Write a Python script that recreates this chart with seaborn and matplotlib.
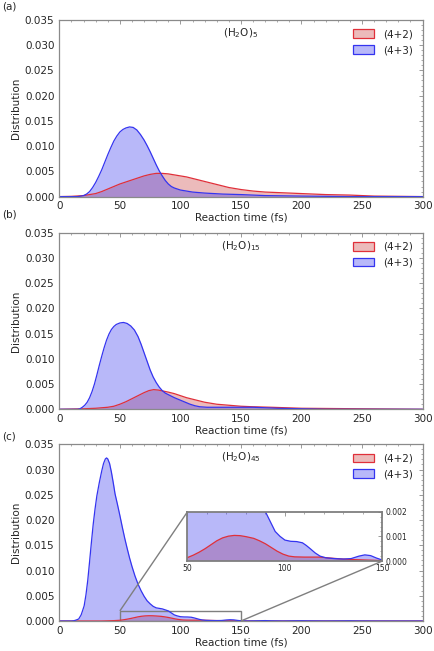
import numpy as np
import matplotlib
matplotlib.use("Agg")
import matplotlib.pyplot as plt
import seaborn as sns
from matplotlib.patches import Patch
from matplotlib.ticker import MultipleLocator, FormatStrFormatter
from mpl_toolkits.axes_grid1.inset_locator import mark_inset

# ==============================
# DATA
# ==============================
panel_labels = ["(a)", "(b)", "(c)"]
cluster_names = [r"(H$_2$O)$_5$", r"(H$_2$O)$_{15}$", r"(H$_2$O)$_{45}$"]
series_names = ["(4+2)", "(4+3)"]

# (H2O)5
a_red_t = [0, 10, 20, 25, 30, 35, 40, 45, 50, 55, 60, 65, 70, 75, 80, 85, 90, 95, 100,
           105, 110, 115, 120, 125, 130, 135, 140, 145, 150, 160, 170, 180, 190, 200,
           220, 240, 260, 280, 300]
a_red_d = [0, 0.00005, 0.0002, 0.0004, 0.0006, 0.0010, 0.0015, 0.0020, 0.0025, 0.0029,
           0.0033, 0.0037, 0.0041, 0.0044, 0.0046, 0.0046, 0.0045, 0.0043, 0.0041,
           0.0039, 0.0036, 0.0033, 0.0030, 0.0027, 0.0024, 0.0021, 0.0018, 0.0016,
           0.0014, 0.0011, 0.0009, 0.0008, 0.0007, 0.0006, 0.0004, 0.0003, 0.0001,
           0.00005, 0]
a_blue_t = [0, 15, 18, 20, 22.5, 25, 27.5, 30, 32.5, 35, 37.5, 40, 42.5, 45, 47.5, 50,
            52.5, 55, 58, 61, 64, 67, 70, 72.5, 75, 77.5, 80, 82.5, 85, 87.5, 90, 92.5,
            95, 100, 105, 110, 120, 135, 150, 170, 200, 240, 300]
a_blue_d = [0, 0, 0.0001, 0.0002, 0.0005, 0.0010, 0.0018, 0.0028, 0.0040, 0.0053,
            0.0068, 0.0083, 0.0097, 0.0110, 0.0120, 0.0128, 0.0133, 0.0136, 0.0138,
            0.0137, 0.0132, 0.0123, 0.0112, 0.0101, 0.0089, 0.0076, 0.0063, 0.0051,
            0.0041, 0.0032, 0.0025, 0.0020, 0.0017, 0.0013, 0.0011, 0.0009, 0.0007,
            0.0005, 0.0004, 0.0002, 0.0001, 0, 0]

# (H2O)15
b_red_t = [0, 20, 30, 40, 45, 50, 55, 60, 65, 70, 74, 78, 82, 86, 90, 95, 100, 105,
           110, 115, 120, 130, 140, 150, 160, 175, 200, 250, 300]
b_red_d = [0, 0.0001, 0.0002, 0.0004, 0.0006, 0.0010, 0.0015, 0.0021, 0.0027, 0.0033,
           0.0037, 0.0039, 0.0038, 0.0036, 0.0034, 0.0031, 0.0027, 0.0023, 0.0020,
           0.0017, 0.0014, 0.0010, 0.0008, 0.0006, 0.0005, 0.0004, 0.0002, 0.0001, 0]
b_blue_t = [0, 15, 17, 19, 21, 23, 25, 27, 29, 31, 33, 35, 37, 39, 41, 43, 45, 47, 50,
            53, 56, 59, 62, 65, 67.5, 70, 72.5, 75, 77.5, 80, 82.5, 85, 87.5, 90, 95,
            100, 104, 108, 112, 116, 122, 140, 160, 170, 180, 200, 220, 300]
b_blue_d = [0, 0, 0.0001, 0.0004, 0.0008, 0.0014, 0.0023, 0.0035, 0.0050, 0.0068,
            0.0087, 0.0105, 0.0122, 0.0137, 0.0149, 0.0158, 0.0164, 0.0168, 0.0171,
            0.0172, 0.0170, 0.0165, 0.0157, 0.0144, 0.0129, 0.0112, 0.0095, 0.0078,
            0.0064, 0.0053, 0.0044, 0.0037, 0.0032, 0.0029, 0.0023, 0.0018, 0.0014,
            0.0010, 0.0007, 0.0005, 0.0004, 0.0004, 0.0004, 0.0003, 0.0002, 0.0001,
            0, 0]

# (H2O)45
c_red_t = [0, 35, 40, 45, 50, 53, 56, 59, 62, 65, 68, 71, 74, 77, 80, 84, 87, 90, 93,
           96, 99, 102, 105, 110, 118, 122, 128, 135, 142, 150, 160, 300]
c_red_d = [0, 0, 0.00003, 0.00007, 0.00014, 0.00024, 0.00036, 0.00050, 0.00066,
           0.00082, 0.00094, 0.00101, 0.00104, 0.00103, 0.00099, 0.00092, 0.00082,
           0.00070, 0.00055, 0.00040, 0.00028, 0.00020, 0.00017, 0.00016, 0.00016,
           0.00013, 0.00009, 0.00006, 0.00004, 0.00002, 0, 0]
c_blue_t = [0, 10, 12, 14, 16, 18, 19, 20.5, 22, 23.5, 25, 26.5, 28, 29.5, 31, 33, 35,
            36.5, 38, 39, 40, 41.5, 43, 44.6, 46, 48, 50, 52, 54, 56, 58, 60, 62.5, 65,
            67.5, 70, 72.5, 75, 77.5, 80, 82.5, 85, 87.5, 90, 92.5, 95, 97.5, 100, 103,
            106, 109, 111, 113, 115.5, 118, 121, 125, 130, 134, 138, 141, 144, 147,
            150, 155, 165, 170, 175, 185, 195, 200, 205, 220, 235, 240, 245, 260, 300]
c_blue_d = [0, 0, 0.00005, 0.0002, 0.0004, 0.0012, 0.0019, 0.0030, 0.0052, 0.0081,
            0.0118, 0.0156, 0.0192, 0.0222, 0.0248, 0.0274, 0.0297, 0.0312, 0.0321,
            0.0323, 0.0321, 0.0312, 0.0295, 0.0273, 0.0252, 0.0231, 0.0209, 0.0186,
            0.0164, 0.0144, 0.0125, 0.0108, 0.0089, 0.0073, 0.0060, 0.0049, 0.0040,
            0.0034, 0.0029, 0.0026, 0.0025, 0.0024, 0.0022, 0.0020, 0.0016, 0.0012,
            0.0010, 0.00085, 0.00080, 0.00079, 0.00074, 0.00063, 0.00050, 0.00033,
            0.00020, 0.00013, 0.00010, 0.00008, 0.00010, 0.00020, 0.00025, 0.00022,
            0.00012, 0.00004, 0.00001, 0.00005, 0.00008, 0.00004, 0.00001, 0.00004,
            0.00005, 0.00003, 0.00001, 0.00003, 0.00004, 0.00002, 0, 0]

red_series = [(a_red_t, a_red_d), (b_red_t, b_red_d), (c_red_t, c_red_d)]
blue_series = [(a_blue_t, a_blue_d), (b_blue_t, b_blue_d), (c_blue_t, c_blue_d)]

# ==============================
# STYLE
# ==============================
sns.set_style("white")
plt.rcParams['font.family'] = ['DejaVu Sans']
plt.rcParams['font.size'] = 7.5
plt.rcParams['mathtext.default'] = 'regular'

red_edge = '#e0303a'
red_fill = '#cc4444'
blue_edge = '#3434f0'
blue_fill = '#3a3af0'
fill_alpha = 0.36
frame_color = '#8a8a8a'

fig = plt.figure(figsize=(4.34, 6.51), dpi=100)
left, width, height = 0.1367, 0.837, 0.2714
bottoms = [0.698, 0.3713, 0.0461]
label_y = [0.9897, 0.6708, 0.3292]


def draw_curve(ax, t, d, edge, fill):
    ax.fill_between(t, d, 0, color=fill, alpha=fill_alpha, linewidth=0)
    sns.lineplot(x=t, y=d, color=edge, linewidth=0.9, ax=ax)


def style_axes(ax, size=7.5):
    for s in ax.spines.values():
        s.set_color(frame_color)
        s.set_linewidth(0.9)
    ax.tick_params(which='both', direction='in', top=True, right=True,
                   color=frame_color, labelsize=size)
    ax.tick_params(which='major', length=3, width=0.6)
    ax.tick_params(which='minor', length=1.6, width=0.5)


axes = []
for i in range(3):
    ax = fig.add_axes([left, bottoms[i], width, height])
    draw_curve(ax, red_series[i][0], red_series[i][1], red_edge, red_fill)
    draw_curve(ax, blue_series[i][0], blue_series[i][1], blue_edge, blue_fill)
    ax.set_xlim(0, 300)
    ax.set_ylim(0, 0.035)
    ax.xaxis.set_major_locator(MultipleLocator(50))
    ax.xaxis.set_minor_locator(MultipleLocator(10))
    ax.yaxis.set_major_locator(MultipleLocator(0.005))
    ax.yaxis.set_minor_locator(MultipleLocator(0.001))
    ax.yaxis.set_major_formatter(FormatStrFormatter('%.3f'))
    style_axes(ax)
    ax.set_xlabel("Reaction time (fs)", labelpad=1)
    ax.set_ylabel("Distribution", labelpad=3)
    ax.text(0.5, 0.925, cluster_names[i], transform=ax.transAxes, ha='center',
            va='center', fontsize=7.5)
    handles = [Patch(facecolor=matplotlib.colors.to_rgba(red_fill, fill_alpha),
                     edgecolor=red_edge, linewidth=0.9),
               Patch(facecolor=matplotlib.colors.to_rgba(blue_fill, fill_alpha),
                     edgecolor=blue_edge, linewidth=0.9)]
    ax.legend(handles, series_names, loc='upper right', frameon=False, fontsize=7.5,
              handlelength=2.0, handleheight=0.9, handletextpad=0.9,
              labelspacing=0.55, borderaxespad=0.5)
    fig.text(0.005, label_y[i], panel_labels[i], fontsize=7.5, ha='left', va='center')
    axes.append(ax)

# ==============================
# INSET (panel c)
# ==============================
ax_c = axes[2]
axins = fig.add_axes([0.432, 0.1382, 0.449, 0.0757])
draw_curve(axins, c_red_t, c_red_d, red_edge, red_fill)
draw_curve(axins, c_blue_t, c_blue_d, blue_edge, blue_fill)
axins.set_xlim(50, 150)
axins.set_ylim(0, 0.002)
axins.set_xticks([50, 100, 150])
axins.set_yticks([0, 0.001, 0.002])
axins.xaxis.set_minor_locator(MultipleLocator(10))
axins.yaxis.set_minor_locator(MultipleLocator(0.0002))
axins.yaxis.set_major_formatter(FormatStrFormatter('%.3f'))
style_axes(axins, size=5.5)
axins.tick_params(which='both', labelleft=False, labelright=True, pad=2)
for s in axins.spines.values():
    s.set_linewidth(1.3)
    s.set_color('#7f7f7f')
axins.set_xlabel("")
axins.set_ylabel("")
mark_inset(ax_c, axins, loc1=2, loc2=4, fc='none', ec='#7f7f7f', lw=1.0)

fig.savefig("out.png", dpi=100)
